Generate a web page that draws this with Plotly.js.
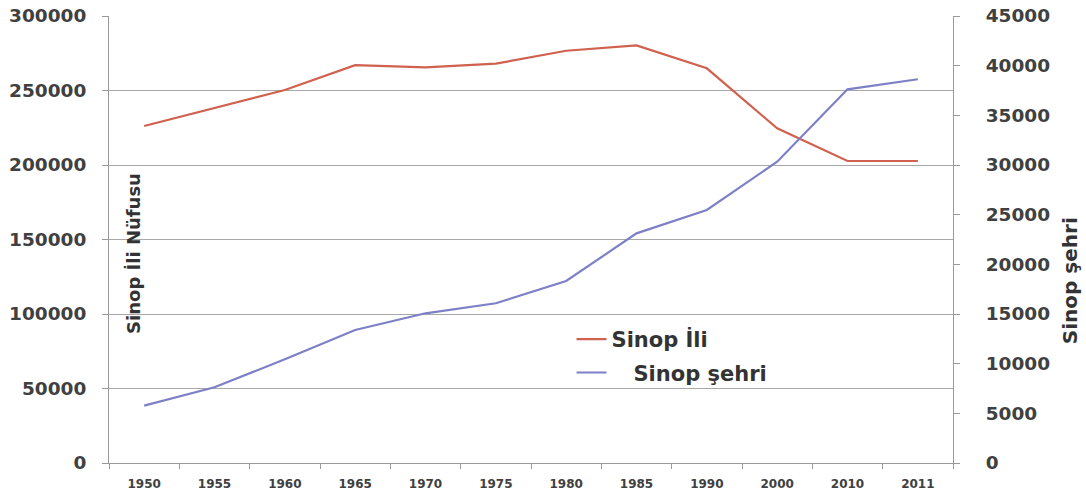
<!DOCTYPE html>
<html>
<head>
<meta charset="utf-8">
<script src="https://cdn.plot.ly/plotly-3.0.1.min.js"></script>
<style>html,body{margin:0;padding:0;background:#fff;}#chart{width:1086px;height:499px;}</style>
</head>
<body>
<div id="chart"></div>
<script>
const years = ['1950','1955','1960','1965','1970','1975','1980','1985','1990','2000','2010','2011'];
const sinopIli = [226200, 238500, 250300, 267000, 265500, 268000, 276700, 280300, 264900, 224600, 202700, 202700];
const sinopSehri = [5770, 7620, 10440, 13390, 15070, 16080, 18320, 23120, 25470, 30330, 37620, 38630];
const leftTicks = [0, 50000, 100000, 150000, 200000, 250000, 300000];
const rightTicks = [0, 5000, 10000, 15000, 20000, 25000, 30000, 35000, 40000, 45000];

const FAM = 'DejaVu Sans, Open Sans, sans-serif';
const tickFont = {family: FAM, size: 18.5, color: '#404040', weight: 700};

const traces = [
  {x: years, y: sinopIli, name: 'Sinop İli', type: 'scatter', mode: 'lines', legendgroup: 'a',
   line: {color: '#d0614f', width: 2.2}, yaxis: 'y'},
  {x: years, y: sinopSehri, name: '\u00a0\u00a0\u00a0Sinop şehri', type: 'scatter', mode: 'lines', legendgroup: 'b',
   line: {color: '#7d80c6', width: 2.2}, yaxis: 'y2'}
];

const layout = {
  width: 1086, height: 499,
  margin: {l: 109, r: 133, t: 16, b: 36},
  paper_bgcolor: '#ffffff', plot_bgcolor: '#ffffff',
  showlegend: true,
  legend: {x: 0.548, y: 0.322, xanchor: 'left', yanchor: 'top', bgcolor: 'rgba(0,0,0,0)',
           font: {family: FAM, size: 21, color: '#333333', weight: 700},
           tracegroupgap: 3},
  xaxis: {type: 'category', range: [-0.5, 11.5], tickson: 'boundaries', ticks: 'outside', ticklen: 5,
          tickcolor: '#9a9a9a', showline: true, linecolor: '#9a9a9a', linewidth: 1, showgrid: false,
          tickfont: {family: FAM, size: 12, color: '#404040', weight: 700}, ticklabelstandoff: 10,
          fixedrange: true},
  yaxis: {range: [0, 300000], tickvals: leftTicks, ticktext: leftTicks.map(String), ticks: 'outside', ticklen: 6,
          tickcolor: '#9a9a9a', showline: true, linecolor: '#9a9a9a', linewidth: 1,
          showgrid: true, gridcolor: '#a8a8a8', gridwidth: 1, zeroline: false,
          tickfont: tickFont, ticklabelstandoff: 12},
  yaxis2: {range: [0, 45000], tickvals: rightTicks, ticktext: rightTicks.map(String), overlaying: 'y', side: 'right',
           ticks: 'outside', ticklen: 6, tickcolor: '#9a9a9a', showline: true, linecolor: '#9a9a9a', linewidth: 1,
           showgrid: false, zeroline: false, tickfont: tickFont, ticklabelstandoff: 22},
  annotations: [
    {text: 'Sinop İli Nüfusu', xref: 'paper', yref: 'paper', x: 0.0296, y: 0.47, textangle: -90,
     showarrow: false, xanchor: 'center', yanchor: 'middle',
     font: {family: FAM, size: 18, color: '#333333', weight: 700}},
    {text: 'Sinop şehri', xref: 'paper', yref: 'paper', x: 1.1386, y: 0.409, textangle: -90,
     showarrow: false, xanchor: 'center', yanchor: 'middle',
     font: {family: FAM, size: 20, color: '#333333', weight: 700}}
  ]
};

Plotly.newPlot('chart', traces, layout, {displayModeBar: false, staticPlot: true});
</script>
</body>
</html>
